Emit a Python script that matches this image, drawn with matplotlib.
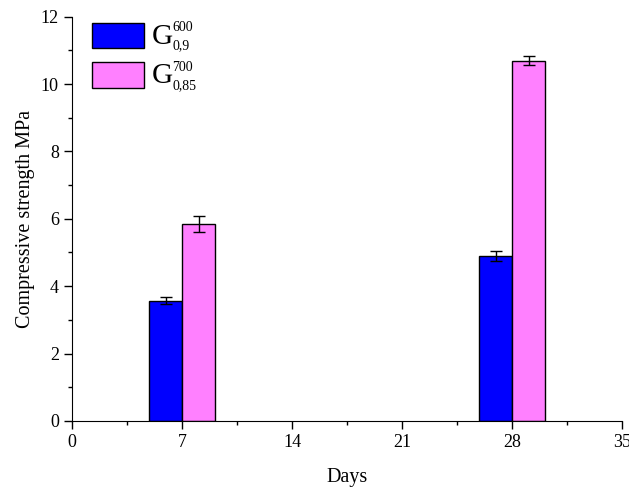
import numpy as np
import matplotlib.pyplot as plt
from matplotlib.ticker import MultipleLocator

plt.rcParams['font.family'] = 'Liberation Serif'

days = [7, 28]
g600 = [3.57, 4.90]
g600_err = [0.10, 0.15]
g700 = [5.85, 10.69]
g700_err = [0.23, 0.13]
sup_labels = ['600', '700']
sub_labels = ['0,9', '0,85']

fig = plt.figure(figsize=(6.29, 4.9), dpi=100)
ax = fig.add_axes([0.1145, 0.141, 0.8745, 0.825])

w = 2.1
x = np.array(days)
ax.bar(x - w / 2, g600, width=w, color='#0000FF', edgecolor='black', linewidth=1,
       yerr=g600_err, capsize=4, error_kw=dict(elinewidth=1, capthick=1), label='G')
ax.bar(x + w / 2, g700, width=w, color='#FF80FF', edgecolor='black', linewidth=1,
       yerr=g700_err, capsize=4, error_kw=dict(elinewidth=1, capthick=1), label='G')

ax.set_xlim(0, 35)
ax.set_ylim(0, 12)
ax.xaxis.set_major_locator(MultipleLocator(7))
ax.xaxis.set_minor_locator(MultipleLocator(3.5))
ax.yaxis.set_major_locator(MultipleLocator(2))
ax.yaxis.set_minor_locator(MultipleLocator(1))
ax.spines['top'].set_visible(False)
ax.spines['right'].set_visible(False)
ax.tick_params(which='major', direction='out', length=6, width=1, labelsize=13)
ax.tick_params(which='minor', direction='out', length=3, width=1)

ax.set_xlabel('Days', fontsize=14.5, labelpad=12)
ax.set_ylabel('Compressive strength MPa', fontsize=14.5, labelpad=4)

leg = ax.legend(loc='upper left', bbox_to_anchor=(0.036, 0.985), frameon=False, fontsize=18,
                handlelength=2.08, handleheight=1.18, labelspacing=0.5, handletextpad=0.3,
                borderpad=0, borderaxespad=0)

# bigger G, super/subscripts drawn after the legend
for txt, sup, sub in zip(leg.get_texts(), sup_labels, sub_labels):
    txt.set_fontsize(21)
    ax.annotate(sup, xy=(1.0, 0.86), xycoords=txt, fontsize=10, ha='left', va='center', zorder=6)
    ax.annotate(sub, xy=(1.0, 0.14), xycoords=txt, fontsize=10, ha='left', va='center', zorder=6)

fig.savefig('out.png', dpi=100)
